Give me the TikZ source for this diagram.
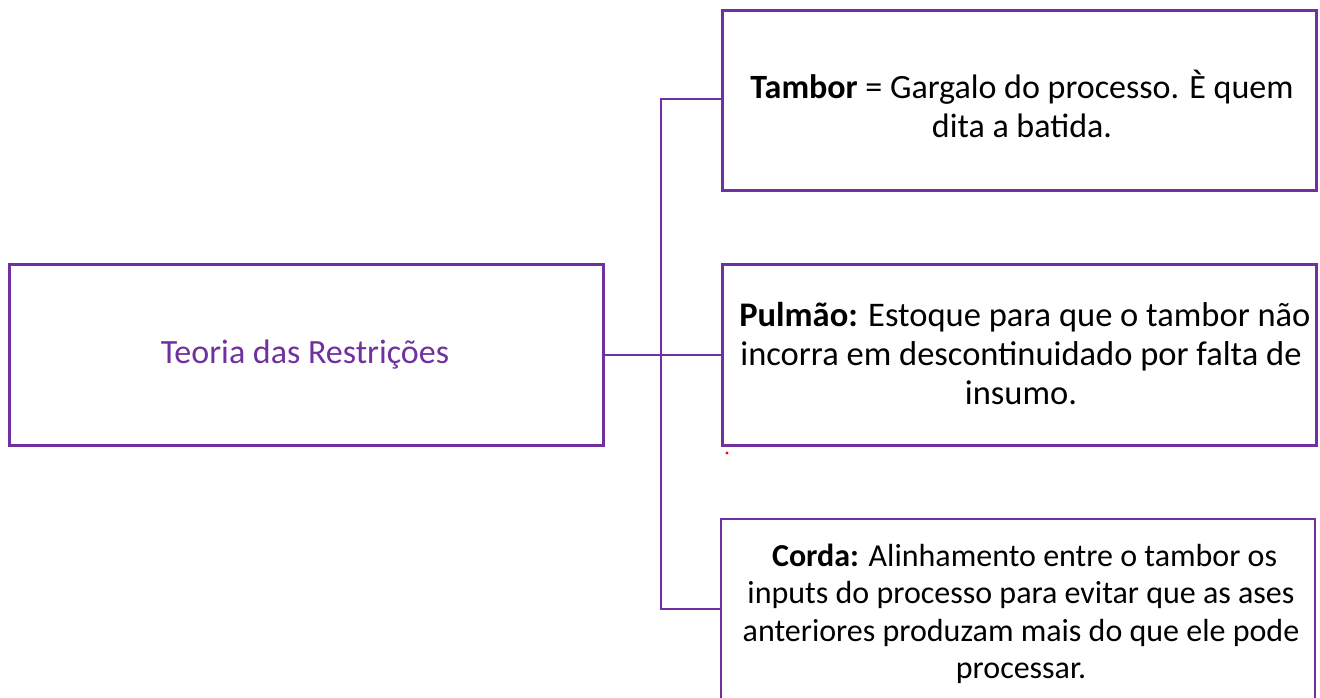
\documentclass[tikz,border=0pt]{standalone}
\usepackage{fontspec}
\setmainfont{Carlito}
\definecolor{vio}{HTML}{7030A0}
\begin{document}
\begin{tikzpicture}[x=1pt,y=-1pt,
  box/.style={draw=vio,line width=2.8pt,minimum width=594pt,anchor=north west,inner sep=0pt},
  conn/.style={draw=vio,line width=2.8pt},
  txt/.style={align=center,font=\fontsize{34}{38.5}\selectfont,text=black},
  smalltxt/.style={align=center,font=\fontsize{32}{37.5}\selectfont,text=black}]
\useasboundingbox (0,0) rectangle (1320,698);
\node[box,minimum height=181pt] (L) at (8,263) {};
\node[box,minimum height=180pt] (A) at (721,9) {};
\node[box,minimum height=181pt] (B) at (721,263) {};
\draw[conn] (721,730) |- (1315,519) -- (1315,730);
\node[txt,text=vio] (Lt) at (305,355) {Teoria das Restrições};
\node[txt] (At) at (1022,104) {\textbf{Tambor} = Gargalo do processo. È quem\\dita a batida.};
\node[txt,font=\fontsize{34.5}{39}\selectfont] (Bt) at (1021,354) {~\textbf{Pulmão:} Estoque para que o tambor não\\incorra em descontinuidado por falta de\\insumo.};
\node[smalltxt] (Ct) at (1021,614) {~\textbf{Corda:} Alinhamento entre o tambor os\\inputs do processo para evitar que as ases\\anteriores produzam mais do que ele pode\\processar.};
\coordinate (Stop) at (661,99);
\coordinate (Sbot) at (661,609);
\draw[conn] (L.east) -- (B.west);
\draw[conn] (A.west |- Stop) -- (Stop) -- (Sbot) -- (721,609);
\fill[red] (727,453) circle (1.6pt);
\end{tikzpicture}
\end{document}
